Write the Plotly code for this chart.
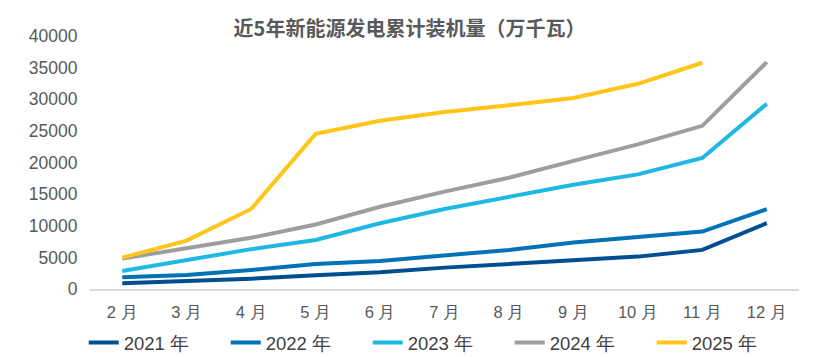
import plotly.graph_objects as go

months = ["2 月", "3 月", "4 月", "5 月", "6 月", "7 月", "8 月", "9 月", "10 月", "11 月", "12 月"]
y2021 = [900, 1270, 1630, 2170, 2650, 3380, 3960, 4440, 5120, 6180, 10400]
y2022 = [1850, 2200, 3000, 3960, 4440, 5280, 6180, 7340, 8290, 9080, 12630]
y2023 = [2850, 4600, 6300, 7750, 10400, 12650, 14550, 16480, 18120, 20710, 29270]
y2024 = [4800, 6400, 8100, 10200, 13000, 15400, 17600, 20250, 22870, 25800, 35860]
y2025 = [4960, 7650, 12650, 24530, 26600, 28000, 29050, 30200, 32440, 35770, None]
series_names = ["2021 年", "2022 年", "2023 年", "2024 年", "2025 年"]
colors = ["#004E92", "#0073B7", "#1FB8E3", "#9E9E9E", "#FFC519"]
ytick_vals = [0, 5000, 10000, 15000, 20000, 25000, 30000, 35000, 40000]

FONT = "Liberation Sans, Arial, sans-serif"
CJK = "Noto Sans CJK SC, sans-serif"

fig = go.Figure()
for name, ys, c in zip(series_names, [y2021, y2022, y2023, y2024, y2025], colors):
    fig.add_trace(go.Scatter(x=months, y=ys, name=name, mode="lines",
                             line=dict(color=c, width=4), connectgaps=False))

fig.update_layout(
    width=824, height=357,
    margin=dict(l=90, r=25, t=36, b=68, autoexpand=False),
    paper_bgcolor="white", plot_bgcolor="white",
    title=dict(text="<b>近5年新能源发电累计装机量（万千瓦）</b>", x=0.497, xanchor="center",
               xref="container", yref="container", y=0.919, yanchor="middle",
               font=dict(family=CJK, size=20, color="#595959")),
    showlegend=True,
    legend=dict(orientation="h", xref="container", yref="container",
                x=0.1016, xanchor="left", y=0.039, yanchor="middle",
                font=dict(family=FONT, size=18.5, color="#404040"),
                entrywidth=97, traceorder="normal", bgcolor="rgba(0,0,0,0)"),
    xaxis=dict(showgrid=False, showline=True, linecolor="#D9D9D9", linewidth=2,
               range=[-0.5, 10.5], automargin=False,
               ticks="outside", ticklen=7, tickcolor="rgba(0,0,0,0)",
               tickfont=dict(family=FONT, size=16.5, color="#595959"),
               zeroline=False),
    yaxis=dict(range=[0, 40000], tickvals=ytick_vals, showgrid=False, zeroline=False,
               showline=False, ticks="outside", ticklen=8, tickcolor="rgba(0,0,0,0)",
               tickformat="d", automargin=False,
               tickfont=dict(family=FONT, size=17.5, color="#595959")),
)

fig.write_html("out.html", config={"displayModeBar": False},
               post_script="document.body.style.margin='0px';")
